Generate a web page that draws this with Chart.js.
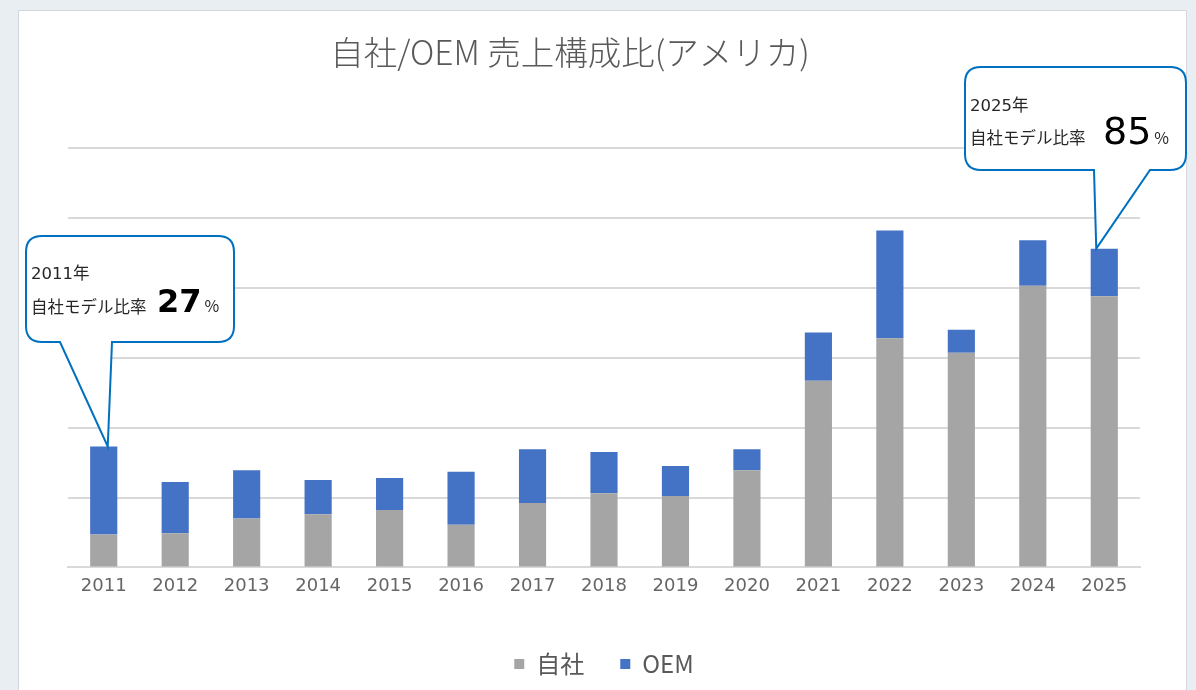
<!DOCTYPE html>
<html>
<head>
<meta charset="utf-8">
<script src="https://cdn.jsdelivr.net/npm/chart.js@4/dist/chart.umd.min.js"></script>
<style>
  html,body{margin:0;padding:0;width:1196px;height:690px;overflow:hidden;background:#e9eef2;}
  #card{position:absolute;left:18px;top:10px;width:1169px;height:690px;background:#fff;border:1px solid #d4d8dc;box-sizing:border-box;}
  #wrap{position:absolute;left:0;top:0;width:1196px;height:690px;}
</style>
</head>
<body>
<div id="card"></div>
<div id="wrap"><canvas id="c" width="1196" height="690"></canvas></div>
<script>
const categories = ['2011','2012','2013','2014','2015','2016','2017','2018','2019','2020','2021','2022','2023','2024','2025'];
const ownSales  = [47, 49, 70, 76, 82, 61, 92, 106, 102, 139, 267, 328, 307, 403, 388];
const oemSales  = [126, 73, 69, 49, 46, 76, 77, 59, 43, 30, 69, 154, 33, 65, 68];
const seriesNames = ['自社', 'OEM'];
const titleText = '自社/OEM 売上構成比(アメリカ)';
const callouts = [
  {index: 0,  year: '2011年', label: '自社モデル比率', value: '27', bold: true},
  {index: 14, year: '2025年', label: '自社モデル比率', value: '85', bold: false}
];

const FONT = '"Noto Sans CJK JP", "Noto Sans", sans-serif';
const NUMFONT = '"DejaVu Sans", "Noto Sans CJK JP", sans-serif';

function roundedCallout(ctx, x1, y1, x2, y2, r, baseL, baseR, tipX, tipY){
  ctx.beginPath();
  ctx.moveTo(x1 + r, y1);
  ctx.lineTo(x2 - r, y1);
  ctx.quadraticCurveTo(x2, y1, x2, y1 + r);
  ctx.lineTo(x2, y2 - r);
  ctx.quadraticCurveTo(x2, y2, x2 - r, y2);
  ctx.lineTo(baseR, y2);
  ctx.lineTo(tipX, tipY);
  ctx.lineTo(baseL, y2);
  ctx.lineTo(x1 + r, y2);
  ctx.quadraticCurveTo(x1, y2, x1, y2 - r);
  ctx.lineTo(x1, y1 + r);
  ctx.quadraticCurveTo(x1, y1, x1 + r, y1);
  ctx.closePath();
}

const boxes = [
  {x1: 26, y1: 236, x2: 234, y2: 342, baseL: 60, baseR: 112, tx: 31, yearY: 279, labY: 313, valX: 157, valY: 312, valSize: 32},
  {x1: 965, y1: 67, x2: 1186, y2: 170, baseL: 1094, baseR: 1150, tx: 970, yearY: 111, labY: 144, valX: 1103, valY: 144, valSize: 38}
];

const overlay = {
  id: 'overlay',
  afterDraw(chart){
    const ctx = chart.ctx;
    ctx.save();
    // title
    ctx.fillStyle = '#595959';
    ctx.font = '300 33.5px ' + FONT;
    ctx.textAlign = 'center';
    ctx.textBaseline = 'middle';
    ctx.fillText(titleText, 570, 52);
    // callouts
    const meta1 = chart.getDatasetMeta(1);
    callouts.forEach((c, k) => {
      const b = boxes[k];
      const bar = meta1.data[c.index];
      const tipX = bar.x + (k === 0 ? 4 : -8);
      const tipY = bar.y;
      roundedCallout(ctx, b.x1, b.y1, b.x2, b.y2, 16, b.baseL, b.baseR, tipX, tipY);
      ctx.fillStyle = '#ffffff';
      ctx.fill();
      ctx.strokeStyle = '#0070C0';
      ctx.lineWidth = 2;
      ctx.stroke();
      ctx.fillStyle = '#262626';
      ctx.textAlign = 'left';
      ctx.textBaseline = 'alphabetic';
      ctx.font = '16.5px ' + NUMFONT;
      ctx.fillText(c.year, b.tx, b.yearY);
      ctx.font = '16.5px ' + FONT;
      ctx.fillText(c.label, b.tx, b.labY);
      ctx.fillStyle = '#000000';
      ctx.font = (c.bold ? 'bold ' : '') + b.valSize + 'px ' + NUMFONT;
      ctx.fillText(c.value, b.valX, b.valY);
      const w = ctx.measureText(c.value).width;
      ctx.fillStyle = '#262626';
      ctx.font = '16px ' + FONT;
      ctx.fillText('%', b.valX + w + 3, b.valY);
    });
    ctx.restore();
  }
};

new Chart(document.getElementById('c'), {
  type: 'bar',
  data: {
    labels: categories,
    datasets: [
      {label: seriesNames[0], data: ownSales, backgroundColor: '#A5A5A5', barPercentage: 0.38, categoryPercentage: 1},
      {label: seriesNames[1], data: oemSales, backgroundColor: '#4472C4', barPercentage: 0.38, categoryPercentage: 1}
    ]
  },
  options: {
    responsive: false,
    animation: false,
    layout: {padding: {left: 68, right: 56, top: 148, bottom: 4}},
    plugins: {
      tooltip: {enabled: false},
      title: {display: false},
      legend: {
        position: 'bottom',
        labels: {
          boxWidth: 10, boxHeight: 10, padding: 36,
          color: '#595959',
          font: {family: FONT, size: 24}
        }
      }
    },
    scales: {
      x: {
        stacked: true,
        grid: {display: false, drawTicks: false},
        border: {display: true, color: '#D9D9D9', width: 2},
        ticks: {color: '#666666', font: {family: NUMFONT, size: 18}, padding: 8, maxRotation: 0},
        afterFit(s){ s.height += 11; }
      },
      y: {
        stacked: true,
        min: 0, max: 600,
        ticks: {display: false, stepSize: 100},
        grid: {color: '#D9D9D9', lineWidth: 2, drawTicks: false},
        border: {display: false},
        afterFit(s){ s.width = 0; }
      }
    }
  },
  plugins: [overlay]
});
</script>
</body>
</html>
